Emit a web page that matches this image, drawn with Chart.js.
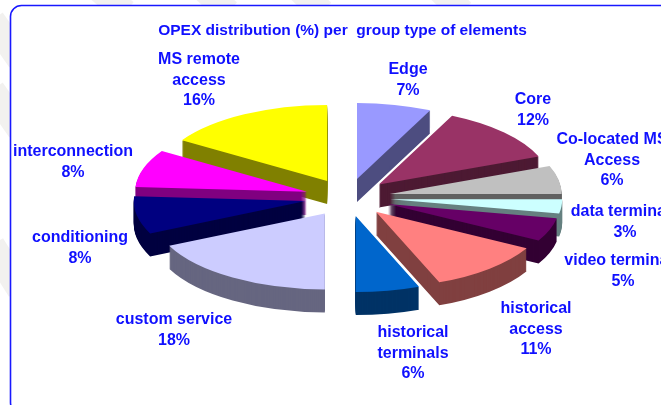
<!DOCTYPE html>
<html>
<head>
<meta charset="utf-8">
<style>
html,body{margin:0;padding:0;background:#fff;overflow:hidden}
canvas{display:block;filter:blur(0.4px)}
</style>
<script src="https://cdn.jsdelivr.net/npm/chart.js@4/dist/chart.umd.min.js"></script>
</head>
<body>
<canvas id="c" width="661" height="405"></canvas>
<script>
const chartTitle = 'OPEX distribution (%) per  group type of elements';
const categories = ['Edge','Core','Co-located MS\nAccess','data terminals','video terminals','historical\naccess','historical\nterminals','custom service','conditioning','interconnection','MS remote\naccess'];
const values = [7,12,6,3,5,11,6,18,8,8,16];
const topColors = ['#9999FF','#993366','#C0C0C0','#CCFFFF','#660066','#FF8080','#0066CC','#CCCCFF','#000080','#FF00FF','#FFFF00'];
const sideColors = ['#4D4D80','#4D1A33','#606060','#668080','#330033','#804040','#003366','#666680','#000040','#800080','#808000'];
const labelCenterX = [408,533,612,625,623,536,413,174,80,73,199];
const labelFirstLineY = [69.5,99.5,139.5,211.5,260.5,308.5,332.5,319.5,237.5,151.5,59.5];

const pie3d = {cx:347.7, cy:197.5, rx:172, ry:76, explode:42.7, depth:23};
const sideOptions = c => ({backgroundColor:c,borderColor:c,borderWidth:0,offset:0,spacing:0,borderRadius:0,circular:true,borderAlign:'center',borderJoinStyle:'round',selfJoin:false});

const plugin = {
  id:'pie3d',
  beforeDraw(chart){
    const g = chart.ctx;
    g.save();
    g.fillStyle = '#fff';
    g.fillRect(0,0,661,405);
    g.strokeStyle = '#F2F1EF';
    g.lineWidth = 26;
    [[100,-10,125,12],[205,-10,228,12],[300,-10,322,12],[440,-10,462,12],[-8,90,20,130],[-8,245,20,290],[-8,20,20,60]].forEach(b=>{
      g.beginPath();g.moveTo(b[0],b[1]);g.lineTo(b[2],b[3]);g.stroke();
    });
    g.beginPath();
    g.roundRect(10.5,5.5,720,408,11);
    g.fillStyle = '#fff';
    g.fill();
    g.strokeStyle = '#1818FF';
    g.lineWidth = 1.6;
    g.stroke();
    g.restore();
  },
  beforeDatasetsDraw(chart){
    const g = chart.ctx;
    const arcs = chart.getDatasetMeta(0).data;
    const place = (el,extra) => {
      const mid = (el.startAngle+el.endAngle)/2;
      const sx = pie3d.rx/el.outerRadius, sy = pie3d.ry/el.outerRadius;
      g.translate(pie3d.cx+Math.cos(mid)*pie3d.explode, pie3d.cy+Math.sin(mid)*pie3d.explode*pie3d.ry/pie3d.rx+extra);
      g.scale(sx,sy);
      g.translate(-el.x,-el.y);
    };
    const order = arcs.map((el,i)=>i).sort((a,b)=>Math.sin((arcs[a].startAngle+arcs[a].endAngle)/2)-Math.sin((arcs[b].startAngle+arcs[b].endAngle)/2));
    order.forEach(i=>{
      const el = arcs[i];
      const own = el.options;
      el.options = sideOptions(sideColors[i]);
      for(let k=pie3d.depth;k>0;k-=1){
        g.save();place(el,k);el.draw(g);g.restore();
      }
      el.options = sideOptions(topColors[i]);
      g.save();place(el,0);el.draw(g);g.restore();
      el.options = own;
    });
  },
  beforeDatasetDraw(){return false;},
  afterDatasetsDraw(chart){
    const g = chart.ctx;
    g.save();
    g.fillStyle = '#1010FF';
    g.font = 'bold 16px "Liberation Sans"';
    g.textAlign = 'center';
    g.textBaseline = 'middle';
    categories.forEach((name,i)=>{
      const lines = name.split('\n').concat(values[i]+'%');
      lines.forEach((t,j)=>g.fillText(t,labelCenterX[i],labelFirstLineY[i]+j*20.7));
    });
    g.restore();
  }
};

new Chart(document.getElementById('c'),{
  type:'pie',
  data:{labels:categories,datasets:[{data:values,backgroundColor:topColors,borderWidth:0}]},
  options:{
    responsive:false,animation:false,
    layout:{padding:{left:24,top:21}},
    plugins:{
      legend:{display:false},tooltip:{enabled:false},
      title:{display:true,text:chartTitle,color:'#1010FF',font:{family:'"Liberation Sans"',size:15.5,weight:'bold'},padding:{top:0,bottom:4}}
    }
  },
  plugins:[plugin]
});
</script>
</body>
</html>
